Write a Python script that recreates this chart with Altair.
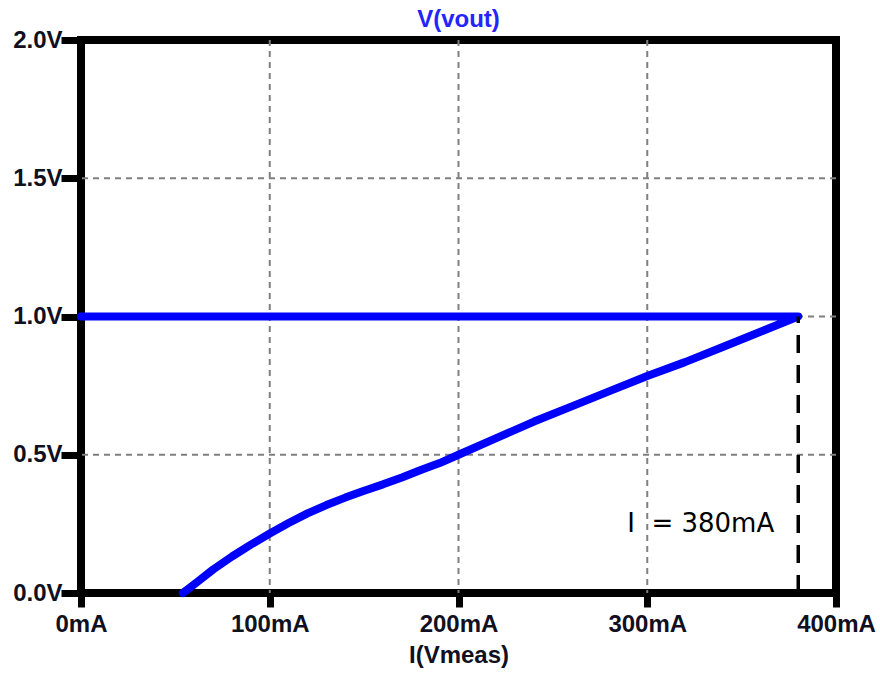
import altair as alt
import pandas as pd

# Sweep trace: flat 1.0 V segment out to 380 mA, then back down the load curve
current_mA = [0, 380, 360, 340, 320, 300, 280, 260, 240, 220, 200, 190, 180,
              170, 160, 150, 140, 130, 120, 110, 100, 90, 80, 70, 62, 54]
vout_V = [1.0, 1.0, 0.945, 0.89, 0.835, 0.785, 0.73, 0.675, 0.62, 0.56, 0.5,
          0.47, 0.445, 0.418, 0.393, 0.37, 0.345, 0.318, 0.288, 0.253, 0.215,
          0.175, 0.132, 0.085, 0.042, 0.0]

x_ticks = [0, 100, 200, 300, 400]
y_ticks = [0.0, 0.5, 1.0, 1.5, 2.0]

limit_mA = 380
limit_V = 1.0
limit_label = "I\u00a0\u00a0= 380mA"

trace = pd.DataFrame({"i": current_mA, "v": vout_V, "k": list(range(len(current_mA)))})
marker = pd.DataFrame({"i": [limit_mA], "v0": [0.0], "v1": [limit_V]})
note = pd.DataFrame({"i": [limit_mA], "v": [0.25], "t": [limit_label]})
# interior grid lines only, so the frame stays solid
grid_x = pd.DataFrame({"i": x_ticks[1:-1]})
grid_y = pd.DataFrame({"v": y_ticks[1:-1]})

label_font = "Liberation Sans"
label_color = "#101020"
grid_style = dict(color="#808080", strokeWidth=2, strokeDash=[6, 5])

x_scale = alt.Scale(domain=[0, 400], nice=False, zero=False)
y_scale = alt.Scale(domain=[0, 2], nice=False)

x_axis = alt.Axis(
    title="I(Vmeas)", values=x_ticks, labelExpr="datum.value + 'mA'",
    grid=False, domain=False, tickColor="black", tickWidth=7, tickSize=14,
    labelFont=label_font, labelFontSize=24, labelFontWeight="bold",
    labelColor=label_color, labelPadding=5, labelFlush=False,
    titleFont=label_font, titleFontSize=24, titleFontWeight="bold",
    titleColor=label_color, titlePadding=7,
)
y_axis = alt.Axis(
    title=None, values=y_ticks, labelExpr="format(datum.value, '.1f') + 'V'",
    grid=False, domain=False, tickColor="black", tickWidth=7, tickSize=20,
    labelFont=label_font, labelFontSize=24, labelFontWeight="bold",
    labelColor=label_color, labelPadding=-1, labelFlush=False,
)

vgrid = alt.Chart(grid_x).mark_rule(**grid_style).encode(
    x=alt.X("i:Q", scale=x_scale, axis=x_axis)
)
hgrid = alt.Chart(grid_y).mark_rule(**grid_style).encode(
    y=alt.Y("v:Q", scale=y_scale, axis=y_axis)
)

curve = alt.Chart(trace).mark_line(
    color="#0000ff", strokeWidth=8, strokeCap="round", strokeJoin="round"
).encode(
    x=alt.X("i:Q", scale=x_scale),
    y=alt.Y("v:Q", scale=y_scale),
    order="k:O",
)

rule = alt.Chart(marker).mark_rule(
    color="black", strokeWidth=3.5, strokeDash=[18, 12]
).encode(
    x=alt.X("i:Q", scale=x_scale),
    y=alt.Y("v0:Q", scale=y_scale),
    y2="v1:Q",
)

text = alt.Chart(note).mark_text(
    align="right", baseline="middle", dx=-24, font="DejaVu Sans",
    fontSize=26, color="black"
).encode(
    x=alt.X("i:Q", scale=x_scale),
    y=alt.Y("v:Q", scale=y_scale),
    text="t:N",
)

chart = alt.layer(vgrid, hgrid, curve, rule, text).properties(
    width=755,
    height=553,
    background="white",
    autosize=alt.AutoSizeParams(type="none"),
    padding={"left": 81, "top": 40, "right": 44, "bottom": 81},
    title=alt.TitleParams(
        text="V(vout)", color="#2424ff", font=label_font, fontSize=24,
        fontWeight="bold", anchor="middle", offset=-4,
    ),
).configure_view(
    stroke="black", strokeWidth=8
)

chart.save("out.html", embed_options={"renderer": "svg", "actions": False})
